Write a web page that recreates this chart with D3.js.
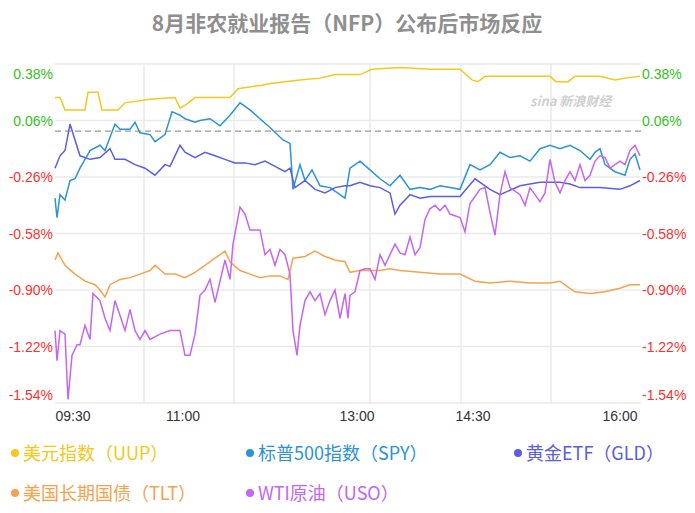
<!DOCTYPE html>
<html><head><meta charset="utf-8">
<script src="https://cdn.jsdelivr.net/npm/d3@7"></script>
<style>body{margin:0;background:#fff;font-family:"Noto Sans CJK SC","Noto Sans",sans-serif}
.ax{font-family:"Liberation Sans",Arial,sans-serif}</style>
</head><body>
<svg id="c" width="695" height="513"></svg>
<script>
// time is in chart units from 09:30 open (0) to close (586)
const yTicks = [0.38, 0.06, -0.26, -0.58, -0.90, -1.22, -1.54];
const xTickPos = [18, 128, 302, 418, 565];
const xTickLabels = ["09:30", "11:00", "13:00", "14:30", "16:00"];
const xGrid = [89, 179, 315, 406, 496];

const uup = [[0,0.19],[5,0.19],[10,0.12],[30,0.12],[33,0.22],[43,0.22],[47,0.12],[63,0.12],[70,0.16],[95,0.18],[120,0.19],[125,0.13],[131,0.15],[140,0.19],[175,0.19],[183,0.24],[207,0.26],[215,0.27],[245,0.29],[265,0.30],[280,0.32],[290,0.32],[305,0.32],[317,0.35],[345,0.36],[375,0.35],[405,0.35],[417,0.29],[423,0.28],[430,0.31],[495,0.31],[501,0.28],[513,0.28],[520,0.31],[545,0.31],[560,0.29],[570,0.30],[585,0.31]];
const spy = [[0,-0.38],[2,-0.49],[5,-0.36],[10,-0.39],[15,-0.28],[20,-0.27],[25,-0.21],[30,-0.16],[35,-0.11],[45,-0.08],[50,-0.11],[60,0.04],[65,0.01],[75,0.01],[80,0.05],[85,-0.01],[95,-0.02],[100,-0.06],[110,-0.02],[117,0.11],[125,0.09],[130,0.07],[140,0.05],[145,0.06],[155,0.07],[165,0.03],[175,0.09],[185,0.16],[195,0.12],[205,0.07],[215,0.02],[228,-0.05],[235,-0.07],[238,-0.33],[245,-0.19],[250,-0.28],[257,-0.22],[265,-0.31],[275,-0.32],[285,-0.36],[290,-0.38],[295,-0.21],[305,-0.17],[315,-0.22],[325,-0.27],[335,-0.31],[345,-0.25],[355,-0.33],[365,-0.32],[375,-0.33],[385,-0.31],[395,-0.32],[405,-0.33],[415,-0.19],[425,-0.22],[435,-0.19],[445,-0.12],[455,-0.15],[465,-0.14],[475,-0.17],[485,-0.10],[495,-0.08],[505,-0.10],[515,-0.08],[525,-0.11],[535,-0.16],[540,-0.12],[545,-0.10],[550,-0.19],[560,-0.23],[570,-0.25],[575,-0.16],[580,-0.13],[585,-0.22]];
const gld = [[0,-0.21],[5,-0.14],[10,-0.11],[15,0.04],[20,-0.05],[25,-0.14],[35,-0.16],[45,-0.15],[55,-0.10],[60,-0.16],[70,-0.16],[80,-0.19],[90,-0.21],[100,-0.25],[110,-0.19],[115,-0.20],[120,-0.14],[125,-0.08],[130,-0.12],[140,-0.15],[150,-0.12],[160,-0.14],[170,-0.16],[180,-0.18],[190,-0.18],[200,-0.19],[210,-0.17],[220,-0.20],[230,-0.23],[235,-0.21],[240,-0.32],[250,-0.28],[260,-0.33],[270,-0.35],[280,-0.32],[290,-0.31],[295,-0.31],[305,-0.29],[315,-0.31],[325,-0.32],[335,-0.35],[340,-0.47],[345,-0.42],[355,-0.36],[365,-0.38],[375,-0.37],[385,-0.37],[405,-0.37],[420,-0.27],[435,-0.33],[445,-0.36],[465,-0.31],[485,-0.29],[505,-0.29],[515,-0.30],[525,-0.32],[545,-0.32],[565,-0.33],[575,-0.31],[585,-0.28]];
const tlt = [[0,-0.73],[3,-0.69],[10,-0.76],[20,-0.81],[30,-0.85],[40,-0.87],[45,-0.90],[50,-0.94],[55,-0.87],[65,-0.84],[75,-0.83],[85,-0.81],[95,-0.79],[100,-0.76],[110,-0.81],[120,-0.81],[130,-0.83],[140,-0.80],[150,-0.76],[160,-0.72],[170,-0.68],[175,-0.74],[185,-0.79],[195,-0.81],[205,-0.83],[215,-0.82],[225,-0.82],[233,-0.84],[238,-0.72],[250,-0.71],[260,-0.68],[270,-0.71],[280,-0.73],[290,-0.74],[295,-0.80],[305,-0.79],[315,-0.79],[325,-0.79],[335,-0.78],[345,-0.79],[365,-0.80],[385,-0.81],[405,-0.81],[420,-0.85],[435,-0.86],[455,-0.85],[475,-0.86],[495,-0.86],[505,-0.85],[512,-0.88],[520,-0.91],[535,-0.92],[550,-0.91],[565,-0.89],[575,-0.87],[585,-0.87]];
const uso = [[0,-1.13],[2,-1.30],[5,-1.13],[10,-1.15],[13,-1.52],[17,-1.27],[22,-1.21],[25,-1.21],[30,-1.10],[35,-1.18],[38,-0.92],[45,-0.96],[50,-1.06],[55,-1.13],[60,-0.96],[70,-1.13],[75,-1.01],[80,-1.13],[85,-1.18],[90,-1.13],[95,-1.18],[105,-1.15],[115,-1.13],[125,-1.13],[130,-1.27],[135,-1.27],[140,-1.15],[145,-0.93],[150,-0.90],[155,-0.84],[160,-0.97],[170,-0.73],[175,-0.84],[178,-0.64],[185,-0.43],[190,-0.47],[195,-0.56],[205,-0.56],[210,-0.70],[215,-0.67],[220,-0.76],[225,-0.67],[230,-0.70],[235,-0.81],[238,-1.13],[242,-1.27],[245,-1.10],[250,-0.96],[255,-0.91],[260,-0.96],[265,-0.92],[270,-1.04],[275,-0.96],[280,-0.90],[285,-1.06],[290,-0.92],[293,-1.06],[295,-0.93],[300,-0.91],[305,-0.79],[310,-0.78],[315,-0.78],[320,-0.84],[325,-0.70],[330,-0.76],[335,-0.70],[340,-0.64],[345,-0.69],[350,-0.70],[355,-0.60],[360,-0.70],[365,-0.66],[370,-0.50],[375,-0.44],[380,-0.42],[385,-0.45],[390,-0.42],[395,-0.47],[405,-0.49],[410,-0.57],[415,-0.41],[425,-0.33],[430,-0.32],[435,-0.46],[440,-0.59],[445,-0.36],[450,-0.23],[455,-0.32],[465,-0.36],[470,-0.42],[475,-0.32],[485,-0.40],[490,-0.35],[495,-0.16],[500,-0.29],[505,-0.35],[510,-0.28],[515,-0.23],[520,-0.28],[525,-0.19],[530,-0.28],[535,-0.25],[540,-0.17],[545,-0.14],[550,-0.15],[555,-0.21],[565,-0.17],[570,-0.19],[575,-0.11],[580,-0.08],[585,-0.14]];

const series = [
  {name: "美元指数（UUP）", data: uup, color: "#f4c81c"},
  {name: "标普500指数（SPY）", data: spy, color: "#2b93d6"},
  {name: "黄金ETF（GLD）", data: gld, color: "#5a5ee0"},
  {name: "美国长期国债（TLT）", data: tlt, color: "#f6a24e"},
  {name: "WTI原油（USO）", data: uso, color: "#c466f2"}
];

const svg = d3.select("#c");
const x = d3.scaleLinear().domain([0, 586]).range([55, 641]);
const y = d3.scaleLinear().domain([-1.54, 0.38]).range([403, 64]);

svg.append("text").attr("x", 347).attr("y", 31).attr("text-anchor", "middle")
  .attr("font-size", 21).attr("font-weight", "bold").attr("fill", "#8f8f8f")
  .text("8月非农就业报告（NFP）公布后市场反应");

// grid
svg.selectAll(".hg").data(yTicks).join("line")
  .attr("x1", 55).attr("x2", 641).attr("y1", d => y(d)).attr("y2", d => y(d))
  .attr("stroke", "#eaeaea").attr("stroke-width", 1.5);
svg.selectAll(".vg").data(xGrid).join("line")
  .attr("x1", d => x(d)).attr("x2", d => x(d)).attr("y1", 64).attr("y2", 403)
  .attr("stroke", "#eaeaea").attr("stroke-width", 1.5);

svg.append("text").attr("x", 530).attr("y", 106).attr("font-size", 13)
  .attr("font-style", "italic").attr("font-weight", "bold").attr("fill", "#cfcfcf").text("sina 新浪财经");

svg.append("line").attr("x1", 55).attr("x2", 641).attr("y1", y(0)).attr("y2", y(0))
  .attr("stroke", "#999").attr("stroke-dasharray", "6,4").attr("stroke-width", 1.3);

// y labels both sides
const lab = d => d.toFixed(2) + "%";
const ly = (d, i) => y(d) + (i === 0 ? 15 : i === yTicks.length - 1 ? -3 : 5);
svg.selectAll(".yl").data(yTicks).join("text").attr("class", "ax")
  .attr("x", 53).attr("y", ly)
  .attr("text-anchor", "end").attr("font-size", 14)
  .attr("fill", d => d > 0 ? "#33c21d" : "#ff3030").text(lab);
svg.selectAll(".yr").data(yTicks).join("text").attr("class", "ax")
  .attr("x", 642).attr("y", ly)
  .attr("font-size", 14)
  .attr("fill", d => d > 0 ? "#33c21d" : "#ff3030").text(lab);

svg.selectAll(".xl").data(xTickPos).join("text").attr("class", "ax")
  .attr("x", d => x(d)).attr("y", 421).attr("text-anchor", "middle")
  .attr("font-size", 14).attr("fill", "#333").text((d, i) => xTickLabels[i]);

const line = d3.line().x(d => x(d[0])).y(d => y(d[1]));
svg.selectAll(".s").data(series).join("path")
  .attr("d", s => line(s.data)).attr("fill", "none")
  .attr("stroke", s => s.color).attr("stroke-width", 1.5);

// legend
const lpos = [[10, 453], [245, 453], [513, 453], [10, 493], [245, 493]];
const lg = svg.selectAll(".lg").data(series).join("g")
  .attr("transform", (s, i) => `translate(${lpos[i][0]},${lpos[i][1]})`);
lg.append("circle").attr("cx", 5).attr("cy", 0).attr("r", 4).attr("fill", s => s.color);
lg.append("text").attr("x", 13).attr("y", 7).attr("font-size", 18)
  .attr("fill", s => s.color).text(s => s.name);
</script>
</body></html>
